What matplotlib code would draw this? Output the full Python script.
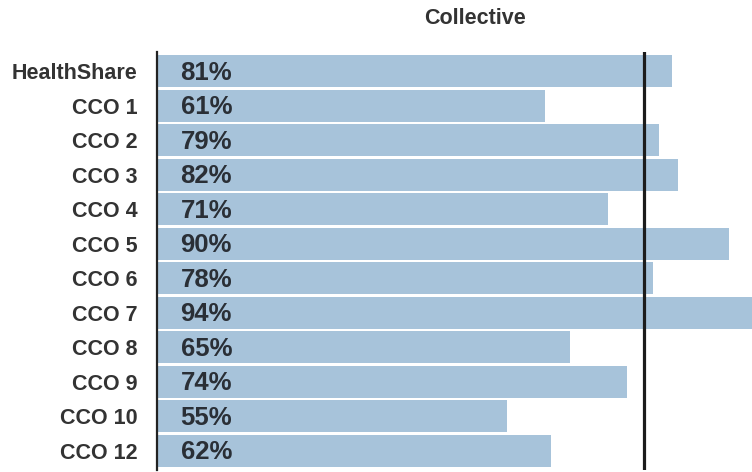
import matplotlib.pyplot as plt

plt.rcParams['font.family'] = ['Liberation Sans', 'DejaVu Sans']

groups = ['HealthShare', 'CCO 1', 'CCO 2', 'CCO 3', 'CCO 4', 'CCO 5',
          'CCO 6', 'CCO 7', 'CCO 8', 'CCO 9', 'CCO 10', 'CCO 12']
values = [81, 61, 79, 82, 71, 90, 78, 94, 65, 74, 55, 62]
collective = 76.6

fig = plt.figure(figsize=(7.52, 4.72), dpi=100)
ax = fig.add_axes([157 / 752, 2 / 472, 595 / 752, 418 / 472])

pos = list(range(len(groups)))
ax.barh(pos, values, height=0.94, color='#a7c3da')
ax.axvline(collective, color='#1c1c1c', lw=2.3)

for p, v in zip(pos, values):
    ax.text(3.7, p + 0.04, f'{v}%', va='center', ha='left', fontsize=18.5,
            fontweight='bold', color='#2a2f36')

ax.set_xlim(0, 93.6)
ax.set_ylim(11.557, -0.557)
ax.set_yticks(pos)
ax.set_yticklabels(groups, fontsize=15.5, fontweight='bold', color='#333333')
ax.tick_params(axis='y', length=0, pad=14)
ax.set_xticks([])
for s in ['top', 'right', 'bottom']:
    ax.spines[s].set_visible(False)
ax.spines['left'].set_linewidth(1.6)
ax.spines['left'].set_color('#222222')

fig.text(475 / 752, 1 - 19 / 472, 'Collective', ha='center', va='center',
         fontsize=15.5, fontweight='bold', color='#333333')

fig.savefig('out.png', dpi=100)
